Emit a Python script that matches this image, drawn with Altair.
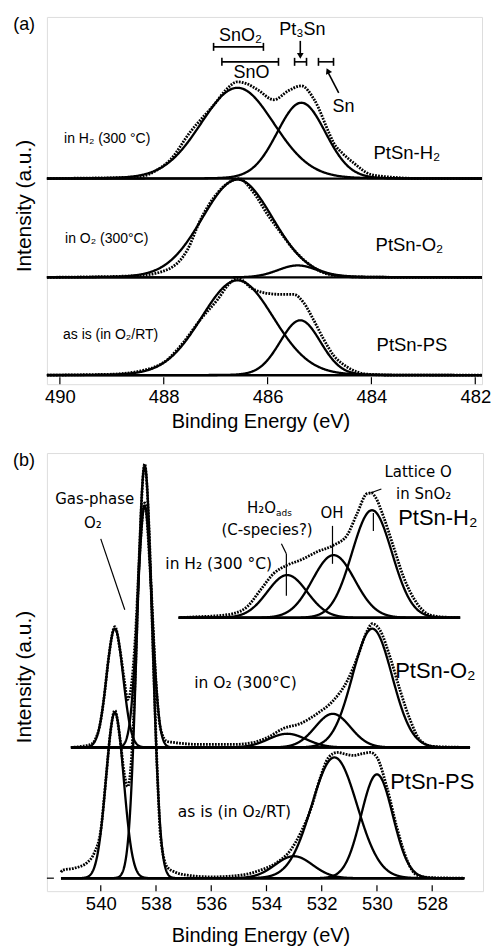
import numpy as np
import pandas as pd
import altair as alt

FONT_A = "Liberation Sans"
FONT_B = "DejaVu Sans"

# =================== Panel (a): Sn 3d5/2 ===================
A_TICKS = [490, 488, 486, 484, 482]
A_DOMAIN = [481.87, 490.25]
A_SPECTRA = ["H2", "O2", "PS"]
A_BASE = [206, 107, 9]

# fitted components: spectrum, centre (eV), height, FWHM (eV)
A_COMP_SPEC = ["H2", "H2", "O2", "O2", "PS", "PS"]
A_COMP_CENTRE = [486.58, 485.35, 486.58, 485.42, 486.58, 485.37]
A_COMP_HEIGHT = [91, 76, 98, 12, 95, 55]
A_COMP_FWHM = [1.66, 1.10, 1.60, 0.90, 1.64, 0.92]

# measured spectra (dotted)
A_H2_E = [490.25, 489.50, 488.90, 488.44, 488.15, 487.87, 487.50, 487.00, 486.80, 486.58, 486.40,
          486.19, 485.88, 485.60, 485.35, 485.10, 484.81, 484.73, 484.55, 484.35, 484.00, 483.50, 483.00, 481.87]
A_H2_I = [0, 0.5, 1, 2, 8, 19, 46, 76, 89, 97, 95, 89, 79, 88, 93, 79, 45, 36, 25, 16, 4, 1, 0, 0]
A_O2_E = [490.25, 489.50, 488.90, 488.44, 487.92, 487.54, 487.29, 486.96, 486.75, 486.56, 486.27,
          486.00, 485.75, 485.50, 485.17, 484.73, 484.30, 483.00, 481.87]
A_O2_I = [0, 0.5, 1, 2, 8, 28, 58, 85, 95, 99, 85, 63, 45, 28, 12, 2, 0.5, 0, 0]
A_PS_E = [490.25, 489.50, 489.00, 488.38, 487.92, 487.62, 487.29, 486.96, 486.75, 486.58, 486.27,
          486.00, 485.75, 485.50, 485.31, 485.12, 484.92, 484.73, 484.46, 484.08, 483.50, 481.87]
A_PS_I = [0, 0.5, 1, 5, 16, 33, 56, 76, 91, 97, 86, 82, 81, 81, 73, 56, 36, 20, 8, 1, 0, 0]

# =================== Panel (b): O 1s ===================
B_TICKS = [540, 538, 536, 534, 532, 530, 528]
B_DOMAIN = [526.16, 541.95]
B_SPECTRA = ["H2", "O2", "PS"]
B_BASE = [274, 144, 13]
B_LO = [526.99, 526.63, 526.84]
B_HI = [537.18, 541.08, 541.44]

B_COMP_SPEC = ["H2", "H2", "H2", "O2", "O2", "O2", "O2", "O2", "PS", "PS", "PS", "PS", "PS"]
B_COMP_CENTRE = [530.18, 531.57, 533.25, 539.49, 538.41, 533.25, 531.60, 530.17,
                 539.49, 538.41, 533.01, 531.54, 530.00]
B_COMP_HEIGHT = [107.7, 62.7, 42.7, 119, 242, 13.7, 33.7, 119, 166, 413, 22, 121, 104]
B_COMP_FWHM = [1.70, 1.80, 1.70, 0.70, 0.60, 1.60, 1.50, 1.68, 0.75, 0.65, 1.60, 1.93, 1.35]

B_H2_E = [537.11, 536.50, 535.90, 535.18, 534.70, 534.22, 533.74, 533.25, 532.77, 532.17, 531.57,
          531.08, 530.72, 530.36, 530.20, 530.06, 529.76, 529.40, 529.04, 528.55, 528.07, 527.50, 526.99]
B_H2_I = [0, 1, 1.7, 4.3, 11, 27.7, 44.3, 52.7, 57.7, 66, 72.7, 82.7, 104.3, 124.3, 125, 121,
          101, 71, 41, 14.3, 2.7, 0.5, 0]
B_O2_E = [541.08, 540.70, 540.36, 540.20, 540.05, 539.90, 539.70, 539.49, 539.30, 539.15, 539.03,
          538.90, 538.75, 538.60, 538.41, 538.20, 538.00, 537.83, 537.60, 537.36, 536.40, 535.19,
          534.47, 533.96, 533.39, 532.77, 532.16, 531.58, 531.07, 530.71, 530.35, 530.17, 529.88,
          529.52, 529.16, 528.79, 528.43, 527.96, 526.63]
B_O2_I = [0, 1, 3, 8, 20, 46, 93, 121, 97, 68, 48, 60, 110, 190, 245, 172, 66, 18, 6, 5, 3, 3,
          5, 10, 19, 24, 34, 47, 67, 90, 117, 124, 117, 90, 57, 27, 7, 1, 0]
B_PS_E = [541.44, 541.38, 540.96, 540.48, 540.24, 540.00, 539.80, 539.65, 539.49, 539.30, 539.15,
          539.02, 538.90, 538.75, 538.60, 538.41, 538.25, 538.10, 537.95, 537.83, 537.59, 537.30,
          536.87, 536.00, 534.94, 534.22, 533.61, 533.13, 532.77, 532.41, 532.05, 531.75, 531.44,
          531.10, 530.84, 530.50, 530.24, 530.00, 529.64, 529.28, 528.91, 528.55, 528.00, 526.87]
B_PS_I = [6, 8, 10, 16, 25, 48, 103, 146, 168, 139, 105, 92, 115, 203, 328, 415, 349, 222, 105,
          40, 11, 6, 3, 1.3, 3, 8, 16, 28, 45, 68, 101, 121, 126, 124, 123, 125, 126, 121, 91,
          51, 18, 3, 0.5, 0]


def pseudo_voigt(x, c, h, w, eta):
    g = np.exp(-4 * np.log(2) * ((x - c) / w) ** 2)
    l = 1.0 / (1 + 4 * ((x - c) / w) ** 2)
    return h * ((1 - eta) * g + eta * l)


def comp_frame(specs, centres, heights, fwhms, names, bases, los, his, eta):
    rows = []
    for k, (s, c, h, w) in enumerate(zip(specs, centres, heights, fwhms)):
        i = names.index(s)
        e = np.arange(los[i], his[i] + 1e-9, 0.01)
        rows.append(pd.DataFrame({"E": e, "V": bases[i] + pseudo_voigt(e, c, h, w, eta),
                                  "curve": f"{s}-{k}"}))
    return pd.concat(rows, ignore_index=True)


def data_frame(pairs, names, bases):
    rows = []
    for s, (e, v) in zip(names, pairs):
        i = names.index(s)
        rows.append(pd.DataFrame({"E": e, "V": [bases[i] + x for x in v], "spec": s}))
    return pd.concat(rows, ignore_index=True)


def make_x(domain, ticks, title_y):
    return alt.X("E:Q", scale=alt.Scale(domain=domain, reverse=True, nice=False, zero=False),
                 axis=alt.Axis(values=ticks, format="d", ticks=False, tickSize=0, domain=False,
                               grid=False, labelFont=FONT_A, labelFontSize=18.5, labelColor="black",
                               labelPadding=3, labelFlush=False, labelOverlap=False,
                               title="Binding Energy (eV)", titleFont=FONT_A, titleFontSize=20,
                               titleFontWeight="normal", titleColor="black",
                               titleBaseline="alphabetic", titleY=title_y, titleX=214,
                               titleAlign="center"))


def make_y(h, title_y):
    return alt.Y("V:Q", scale=alt.Scale(domain=[0, h], nice=False, zero=False),
                 axis=alt.Axis(labels=False, ticks=False, domain=False, grid=False,
                               title="Intensity (a.u.)", titleFont=FONT_A, titleFontSize=21,
                               titleFontWeight="normal", titleColor="black", titleAngle=270,
                               titleX=-16, titleY=title_y, titleBaseline="alphabetic",
                               titleAlign="center"))


def text_layer(df, X, Y, font, size, align="center"):
    return alt.Chart(df).mark_text(font=font, fontSize=size, align=align, baseline="middle",
                                   color="black").encode(x=X, y=Y, text="t:N")


def seg_layer(df, X, Y, width):
    return alt.Chart(df).mark_rule(color="black", strokeWidth=width).encode(
        x=X, x2=alt.X2("E2:Q"), y=Y, y2=alt.Y2("V2:Q"))


DOT = dict(color="black", strokeWidth=2.8, strokeDash=[1.8, 1.2], interpolate="monotone")

# ---------------- panel (a) ----------------
WA, HA = 436, 368
XA = make_x(A_DOMAIN, A_TICKS, 43)
YA = make_y(HA, 189)

a_comp = comp_frame(A_COMP_SPEC, A_COMP_CENTRE, A_COMP_HEIGHT, A_COMP_FWHM, A_SPECTRA, A_BASE,
                    [A_DOMAIN[0]] * 3, [A_DOMAIN[1]] * 3, 0.05)
a_data = data_frame([(A_H2_E, A_H2_I), (A_O2_E, A_O2_I), (A_PS_E, A_PS_I)], A_SPECTRA, A_BASE)
a_base = pd.DataFrame({"E": [A_DOMAIN[1]] * 3, "E2": [A_DOMAIN[0]] * 3, "V": A_BASE})

a_bars = pd.DataFrame({"E": [487.04, 486.88, 485.48, 485.02], "E2": [486.08, 485.79, 485.25, 484.73],
                       "V": [338, 323, 323, 323]})
a_bars["V2"] = a_bars["V"]
a_caps = pd.DataFrame({"E": list(a_bars["E"]) + list(a_bars["E2"]),
                       "V": list(a_bars["V"] - 4) * 2, "V2": list(a_bars["V"] + 4) * 2})
a_caps["E2"] = a_caps["E"]
a_arrows = pd.DataFrame({"E": [485.37, 484.63], "E2": [485.37, 484.83], "V": [344, 292], "V2": [331, 312]})

a_cond = pd.DataFrame({"E": [489.92, 489.90, 489.94], "V": [246, 145, 49],
                       "t": ["in H₂ (300 °C)", "in O₂ (300°C)", "as is (in O₂/RT)"]})
a_sample = pd.DataFrame({"E": [483.96, 483.92, 483.90], "V": [232, 139, 39],
                         "t": ["PtSn-H₂", "PtSn-O₂", "PtSn-PS"]})
a_ref = pd.DataFrame({"E": [486.52, 486.31, 485.33, 484.54], "V": [349, 312, 355, 278],
                      "t": ["SnO₂", "SnO", "Pt₃Sn", "Sn"]})
a_tag = pd.DataFrame({"E": [490.90], "V": [360], "t": ["(a)"]})

panel_a = alt.layer(
    alt.Chart(a_base).mark_rule(color="black", strokeWidth=2.4).encode(x=XA, x2=alt.X2("E2:Q"), y=YA),
    alt.Chart(a_comp).mark_line(color="black", strokeWidth=2.3).encode(x=XA, y=YA, detail="curve:N"),
    alt.Chart(a_data).mark_line(**DOT).encode(x=XA, y=YA, detail="spec:N"),
    alt.Chart(pd.DataFrame({"E": A_TICKS})).mark_rule(color="black", strokeWidth=1.2).encode(
        x=XA, y=alt.value(HA), y2=alt.value(HA - 7)),
    seg_layer(a_bars, XA, YA, 1.6),
    seg_layer(a_caps, XA, YA, 1.6),
    seg_layer(a_arrows, XA, YA, 1.6),
    alt.Chart(pd.DataFrame({"E": [485.37], "V": [329]})).mark_point(
        shape="triangle-down", filled=True, size=45, color="black", opacity=1).encode(x=XA, y=YA),
    alt.Chart(pd.DataFrame({"E": [484.84], "V": [314]})).mark_point(
        shape="triangle-up", filled=True, size=45, color="black", opacity=1, angle=335).encode(x=XA, y=YA),
    text_layer(a_cond, XA, YA, FONT_A, 14, "left"),
    text_layer(a_sample, XA, YA, FONT_A, 18.5, "left"),
    text_layer(a_ref, XA, YA, FONT_A, 18, "center"),
    text_layer(a_tag, XA, YA, FONT_A, 18, "left"),
).properties(width=WA, height=HA)

# ---------------- panel (b) ----------------
WB, HB = 437, 439
XB = make_x(B_DOMAIN, B_TICKS, 50)
YB = make_y(HB, 224)

b_comp = comp_frame(B_COMP_SPEC, B_COMP_CENTRE, B_COMP_HEIGHT, B_COMP_FWHM, B_SPECTRA, B_BASE,
                    B_LO, B_HI, 0.0)
b_data = data_frame([(B_H2_E, B_H2_I), (B_O2_E, B_O2_I), (B_PS_E, B_PS_I)], B_SPECTRA, B_BASE)
b_base = pd.DataFrame({"E": B_HI, "E2": B_LO, "V": B_BASE})

b_lines = pd.DataFrame({
    "E": [540.00, 533.46, 533.28, 531.61, 530.13, 530.24],
    "E2": [539.13, 533.28, 533.28, 531.61, 530.13, 529.84],
    "V": [353, 348, 338, 366, 379, 399],
    "V2": [282, 338, 296, 328, 361, 403]})

b_cond = pd.DataFrame({"E": [535.73, 534.76, 535.16], "V": [328, 209, 79],
                       "t": ["in H₂ (300 °C)", "in O₂ (300°C)", "as is (in O₂/RT)"]})
b_sample = pd.DataFrame({"E": [529.23, 529.34, 529.52], "V": [374, 221, 109],
                         "t": ["PtSn-H₂", "PtSn-O₂", "PtSn-PS"]})
b_annot = pd.DataFrame({"E": [540.22, 540.29, 534.18, 533.98, 531.63, 528.51, 528.31],
                        "V": [393, 369, 384, 362, 379, 420, 398],
                        "t": ["Gas-phase", "O₂", "H₂O", "(C-species?)", "OH", "Lattice O", "in SnO₂"]})
b_sub = pd.DataFrame({"E": [533.37], "V": [379], "t": ["ads"]})
b_tag = pd.DataFrame({"E": [543.18], "V": [431], "t": ["(b)"]})

panel_b = alt.layer(
    alt.Chart(b_base).mark_rule(color="black", strokeWidth=2.4).encode(x=XB, x2=alt.X2("E2:Q"), y=YB),
    alt.Chart(b_comp).mark_line(color="black", strokeWidth=2.3).encode(x=XB, y=YB, detail="curve:N"),
    alt.Chart(b_data).mark_line(**DOT).encode(x=XB, y=YB, detail="spec:N"),
    alt.Chart(pd.DataFrame({"E": B_TICKS})).mark_rule(color="black", strokeWidth=1.2).encode(
        x=XB, y=alt.value(HB), y2=alt.value(HB - 6)),
    alt.Chart(pd.DataFrame({"V": [B_BASE[2]]})).mark_rule(color="black", strokeWidth=1.2).encode(
        x=alt.value(0), x2=alt.value(7), y=YB),
    seg_layer(b_lines, XB, YB, 1.2),
    text_layer(b_cond, XB, YB, FONT_B, 15.5, "center"),
    text_layer(b_sample, XB, YB, FONT_A, 22, "left"),
    text_layer(b_annot, XB, YB, FONT_B, 15, "center"),
    text_layer(b_sub, XB, YB, FONT_B, 9, "center"),
    text_layer(b_tag, XB, YB, FONT_A, 18, "left"),
).properties(width=WB, height=HB)

chart = alt.vconcat(panel_a, panel_b, spacing=19).properties(
    padding={"left": 12, "top": 14, "right": 0, "bottom": 0}
).configure_view(stroke="black", strokeWidth=1.5).configure(background="white")

chart.save("out.html", embed_options={"renderer": "svg", "actions": False})
